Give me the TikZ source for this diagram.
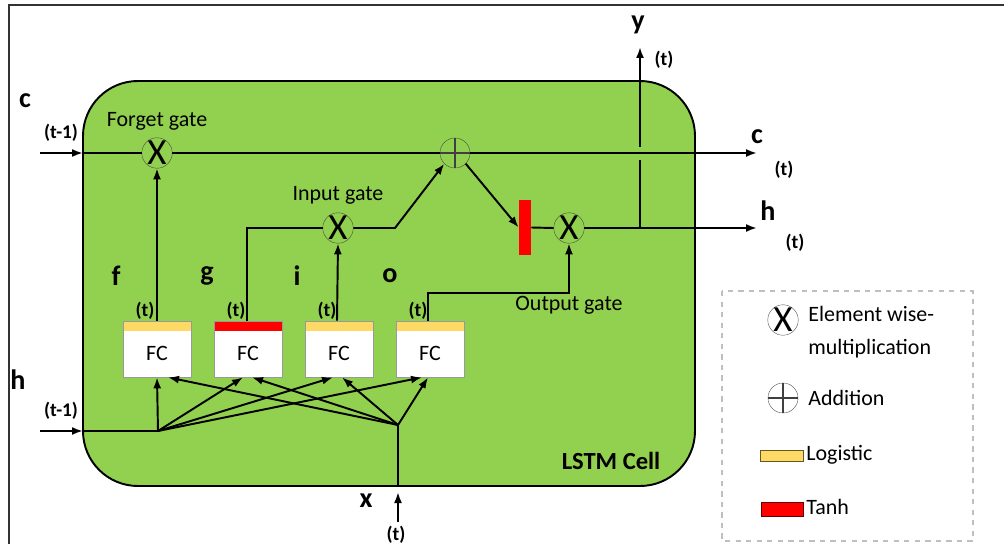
\documentclass[tikz,border=0pt]{standalone}
\usepackage{fontspec}
\setmainfont{Carlito}
\usetikzlibrary{calc,arrows.meta}

\definecolor{cellgreen}{RGB}{146,208,80}
\definecolor{logyellow}{RGB}{255,217,102}
\definecolor{tanhred}{RGB}{255,0,0}

\tikzset{
  wire/.style={line width=1.1pt},
  arr/.style={wire,-{Latex[length=0.22cm,width=0.16cm]}},
  gate/.style={circle, draw=black!75, very thin, fill=cellgreen, minimum size=0.6cm, inner sep=0pt},
  mult/.style={gate, font=\fontsize{21}{21}\selectfont},
  plus/.style={gate, path picture={\draw[line width=1.1pt] (path picture bounding box.north) -- (path picture bounding box.south) (path picture bounding box.west) -- (path picture bounding box.east);}},
  fc/.style={draw=black!40, fill=white, minimum width=1.36cm, minimum height=1.12cm, inner sep=0pt,
    text height=0.45cm, text depth=0pt, font=\fontsize{12.5}{13}\selectfont,
    path picture={\fill[#1] (path picture bounding box.north west) rectangle ([yshift=-0.2cm]path picture bounding box.north east);}},
  lbl/.style={font=\bfseries\fontsize{16}{16}\selectfont},
  tlbl/.style={font=\bfseries\fontsize{11}{11}\selectfont},
  txt/.style={font=\fontsize{12.5}{13}\selectfont},
  legtxt/.style={font=\fontsize{12.5}{13}\selectfont, anchor=base west, inner sep=0pt},
}

\begin{document}
\begin{tikzpicture}[x=0.02cm,y=-0.02cm]
\useasboundingbox (0,0) rectangle (1004,544);

% frame
\draw[black!80, line width=0.8pt] (9,544) -- (9,5) -- (1004,5);

% the cell
\draw[wire, fill=cellgreen, rounded corners=1.1cm] (83,81) rectangle (695,486);
\node[font=\bfseries\fontsize{14}{14}\selectfont] (celltitle) at (611,461) {LSTM Cell};

% gates
\node[mult] (fgt) at (157,153) {X};
\node[plus] (add) at (455,153) {};
\node[mult] (ing) at (338,228) {X};
\node[mult] (outg) at (569,228) {X};
\node[fill=tanhred, minimum width=0.24cm, minimum height=1.1cm, inner sep=0pt] (tanhbar) at (525,227.5) {};

\node[txt] (fgtlbl) at (157,121) {Forget gate};
\node[txt] (inglbl) at (338,195) {Input gate};
\node[txt] (outglbl) at (569,305) {Output gate};

% fully connected layers
\node[fc=logyellow] (fcf) at (157,349) {FC};
\node[fc=tanhred] (fcg) at (248,349) {FC};
\node[fc=logyellow] (fci) at (339,349) {FC};
\node[fc=logyellow] (fco) at (430,349) {FC};

\node[lbl] (flbl) at (116,276) {f};
\node[lbl] (glbl) at (207,276) {g};
\node[lbl] (ilbl) at (297,276) {i};
\node[lbl] (olbl) at (390,276) {o};
\node[tlbl] (ft) at (145,311) {(t)};
\node[tlbl] (gt) at (236,311) {(t)};
\node[tlbl] (it) at (327,311) {(t)};
\node[tlbl] (ot) at (418,311) {(t)};

% long term state
\coordinate (cin) at (40,153);
\coordinate (cedge) at (83,153);
\coordinate (cout) at (757,153);
\draw[arr] (cin) -- (cedge);
\draw[wire] (cedge) -- (fgt);
\draw[wire] (fgt) -- (add);
\draw[arr] (add) -- (cout);
\node[lbl] (cinlbl) at (25,101) {c};
\node[tlbl] (cint) at (61,133) {(t-1)};
\node[lbl] (coutlbl) at (757,137) {c};
\node[tlbl] (coutt) at (784,170) {(t)};

% gate wiring
\draw[arr] (fcf.north) -- (fgt.south);
\draw[wire] ([xshift=-0.02cm]fcg.north) |- (ing.west);
\draw[arr] ([xshift=-0.04cm]fci.north) -- (ing.south);
\coordinate (ingbend) at (395,228);
\draw[arr] (ing.east) -- (ingbend) -- (add.south west);
\draw[arr] (add.south east) -- (tanhbar.west);
\draw[wire] (tanhbar.east) -- (outg.west);
\draw[arr] ([xshift=-0.04cm]fco.north) -- ++(0,-28) -| (outg.south);

% short term state and output
\coordinate (hout) at (757,228);
\coordinate (yjoin) at (640,228);
\coordinate (ygapb) at (640,160);
\coordinate (ygapt) at (640,147);
\coordinate (yout) at (640,47);
\draw[arr] (outg.east) -- (hout);
\draw[wire] (yjoin) -- (ygapb);
\draw[arr] (ygapt) -- (yout);
\node[lbl] (houtlbl) at (768,211) {h};
\node[tlbl] (houtt) at (795,243) {(t)};
\node[lbl] (youtlbl) at (638,25) {y};
\node[tlbl] (youtt) at (664,60) {(t)};

% inputs
\coordinate (hin) at (40,431);
\coordinate (hedge) at (83,431);
\coordinate (hj) at (158,431);
\draw[arr] (hin) -- (hedge);
\draw[wire] (hedge) -- (hj);
\node[lbl] (hinlbl) at (18,380) {h};
\node[tlbl] (hint) at (61,411) {(t-1)};

\coordinate (xj) at (398,425);
\coordinate (xedge) at (398,486);
\coordinate (xin) at (398,522);
\coordinate (xtip) at (398,492);
\draw[arr] (xin) -- (xtip);
\draw[wire] (xedge) -- (xj);
\node[lbl] (xinlbl) at (366,501) {x};
\node[tlbl] (xint) at (396,535) {(t)};

\draw[arr] (hj) -- (fcf.south);
\draw[arr] (hj) -- ([xshift=-0.1cm]fcg.south);
\draw[arr] (hj) -- ([xshift=-0.12cm]fci.south);
\draw[arr] (hj) -- ([xshift=-0.16cm]fco.south);
\draw[arr] (xj) -- ([xshift=0.22cm]fcf.south);
\draw[arr] (xj) -- ([xshift=0.08cm]fcg.south);
\draw[arr] (xj) -- ([xshift=0.06cm]fci.south);
\draw[arr] (xj) -- ([xshift=-0.04cm]fco.south);

% legend
\draw[black!25, line width=0.8pt, dashed] (722,291) rectangle (973,541);
\node[mult, fill=white] (legmult) at (783,320) {X};
\node[plus, fill=white] (legplus) at (783,398) {};
\node[legtxt] (legmulttxt) at (808,321) {Element wise-};
\node[legtxt] (legmulttxtb) at (808,354) {multiplication};
\node[legtxt] (legplustxt) at (808,405) {Addition};
\draw[fill=logyellow, draw=black!60!logyellow] (760,450) rectangle (803,461);
\draw[fill=tanhred, draw=black!60!tanhred] (761,502) rectangle (803,516);
\node[legtxt] (leglogtxt) at (806,460) {Logistic};
\node[legtxt] (legtanhtxt) at (806,514) {Tanh};

\end{tikzpicture}
\end{document}
